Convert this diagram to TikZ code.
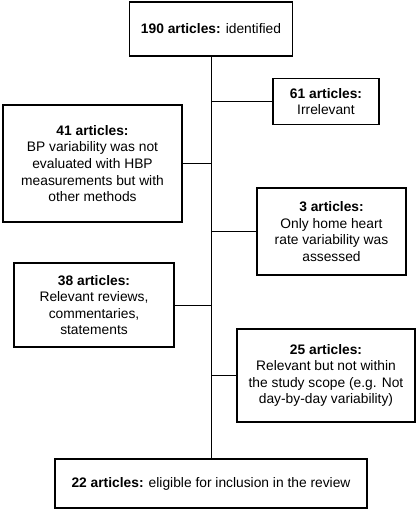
\documentclass[tikz,border=0pt]{standalone}
\usepackage{fontspec}
\setmainfont{Liberation Sans}
\usepackage{tikz}
\usetikzlibrary{positioning}
\tikzset{
  artbox/.style={draw, line width=1.1pt, align=center, inner sep=2pt,
    font=\fontsize{13.8}{16.6}\selectfont},
  branch/.style={line width=0.9pt}
}

\begin{document}
\begin{tikzpicture}[x=1pt,y=-1pt]
            \useasboundingbox (0,0) rectangle (417,509); % fix the page size

            % main column of boxes
            \path (211,29) node (Top) [artbox, minimum width=163pt, minimum height=54pt]
              {\textbf{190 articles:} identified};
            \path (211,483.5) node (Bot) [artbox, minimum width=312pt, minimum height=49pt]
              {\textbf{22 articles:} eligible for inclusion in the review};

            % excluded articles, left side
            \path (92.5,163.5) node (L41) [artbox, minimum width=179pt, minimum height=117pt]
              {\textbf{41 articles:}\\ BP variability was not\\ evaluated with HBP\\ measurements but with\\ other methods};
            \path (94,305) node (L38) [artbox, minimum width=160pt, minimum height=84pt]
              {\textbf{38 articles:}\\ Relevant reviews,\\ commentaries,\\ statements};

            % excluded articles, right side
            \path (326,101.5) node (R61) [artbox, minimum width=106pt, minimum height=46pt]
              {\textbf{61 articles:}\\ Irrelevant};
            \path (331.5,231.5) node (R3) [artbox, minimum width=149pt, minimum height=87pt]
              {\textbf{3 articles:}\\ Only home heart\\ rate variability was\\ assessed};
            \path (326,375.5) node (R25) [artbox, minimum width=178pt, minimum height=93pt]
              {\textbf{25 articles:}\\ Relevant but not within\\ the study scope (e.g. Not\\ day-by-day variability)};

            % trunk line and branches
            \draw [branch] (Top.south) -- (Bot.north);
            \foreach \X in {L41,L38}{
              \draw [branch] (\X.east) -- (\X.east -| Top.south);
            }
            \foreach \X in {R61,R3,R25}{
              \draw [branch] (\X.west) -- (\X.west -| Top.south);
            }
\end{tikzpicture}
\end{document}
